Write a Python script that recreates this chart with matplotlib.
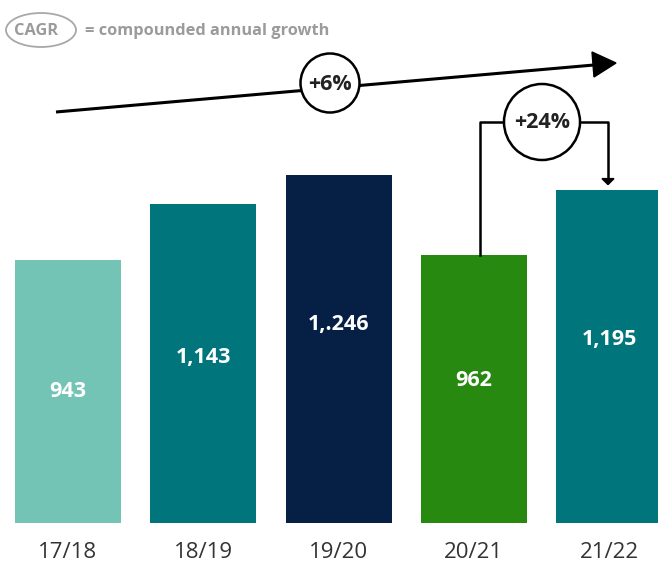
import matplotlib
matplotlib.use("Agg")
import matplotlib.pyplot as plt
from matplotlib.patches import Circle, Ellipse, Polygon

plt.rcParams['font.family'] = ['Open Sans', 'DejaVu Sans']

# data
years = ['17/18', '18/19', '19/20', '20/21', '21/22']
revenue = [943, 1143, 1246, 962, 1195]
value_labels = ['943', '1,143', '1,.246', '962', '1,195']
bar_colors = ['#74c4b6', '#00767c', '#061f44', '#27890f', '#00767c']
cagr_all = '+6%'
cagr_last = '+24%'

W, H = 658, 562
fig = plt.figure(figsize=(W / 100, H / 100), dpi=100)

# main axes: bars drawn from the data
bottom_px = 523
scale = 0.279  # px per unit
ax = fig.add_axes([0, (H - bottom_px) / H, 1, bottom_px / H])
step = 135.3
ax.set_xlim(-68 / step, (W - 68) / step)
ax.set_ylim(0, bottom_px / scale)
xs = list(range(len(years)))
ax.bar(xs, revenue, width=106 / step, color=bar_colors)
ax.axis('off')

# value labels inside bars
label_frac = [0.50, 0.52, 0.57, 0.53, 0.55]
for x, v, t, f in zip(xs, revenue, value_labels, label_frac):
    ax.text(x, v * f, t, ha='center', va='center', color='white',
            fontsize=15.5, fontweight='bold')

# year labels under bars
for x, y in zip(xs, years):
    ax.annotate(y, (x, 0), xytext=(0, -29), textcoords='offset pixels',
                ha='center', va='center', fontsize=16, color='#333333')

# overlay in pixel coords for the annotations
ov = fig.add_axes([0, 0, 1, 1])
ov.set_xlim(0, W)
ov.set_ylim(H, 0)
ov.axis('off')
ov.patch.set_alpha(0)

# CAGR legend
ov.add_patch(Ellipse((41, 30), 70, 34, fill=False, ec='#a8a8a8', lw=1.3))
ov.text(36, 31, 'CAGR', ha='center', va='center', fontsize=11.8,
        fontweight='bold', color='#9b9b9b')
ov.text(85, 31, '= compounded annual growth', ha='left', va='center',
        fontsize=11.8, fontweight='bold', color='#9b9b9b')

# overall trend arrow
ov.plot([56, 594], [112, 65], color='black', lw=2.2, solid_capstyle='butt')
ov.add_patch(Polygon([[592, 52], [616, 63], [594, 77]], closed=True,
                     color='black'))
ov.add_patch(Circle((330, 83), 29.5, fc='white', ec='black', lw=1.8, zorder=3))
ov.text(330, 84, cagr_all, ha='center', va='center', fontsize=15.5,
        fontweight='bold', color='#222222', zorder=4)

# last-year connector, from top of 20/21 bar to just above 21/22 bar
top4 = bottom_px - revenue[3] * scale
tip5 = bottom_px - revenue[4] * scale - 5
ov.plot([480, 480, 608, 608], [top4, 122, 122, tip5 - 6], color='black', lw=1.8)
ov.add_patch(Polygon([[602, tip5 - 6], [614, tip5 - 6], [608, tip5]],
                     closed=True, color='black'))
ov.add_patch(Circle((542, 122), 38, fc='white', ec='black', lw=1.8, zorder=3))
ov.text(542, 123, cagr_last, ha='center', va='center', fontsize=15.5,
        fontweight='bold', color='#222222', zorder=4)

fig.savefig('out.png', dpi=100)
